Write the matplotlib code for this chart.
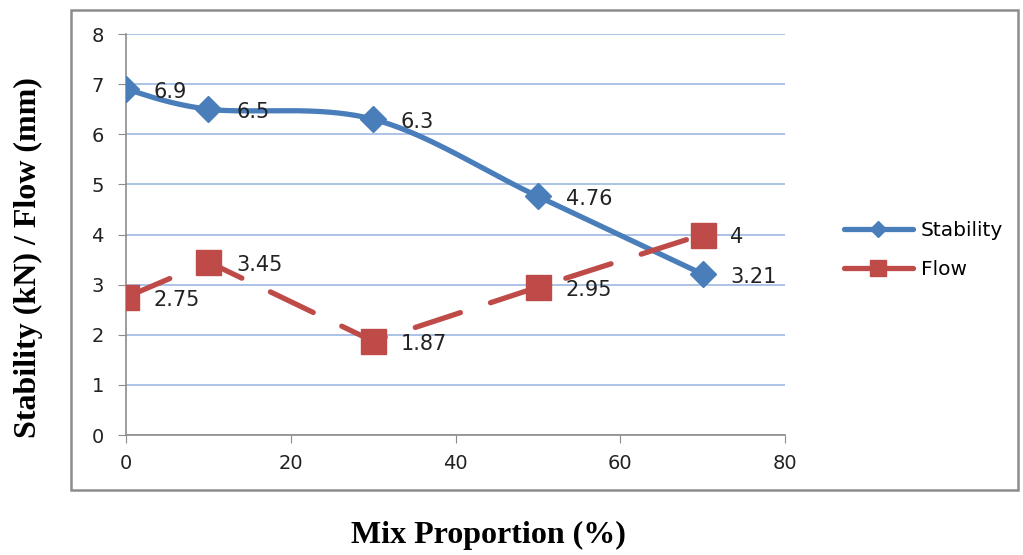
import numpy as np
import matplotlib
matplotlib.use('Agg')
import matplotlib.pyplot as plt
from matplotlib.patches import Rectangle
from matplotlib.lines import Line2D

plt.rcParams['font.family'] = ['DejaVu Sans']

# data
mix = [0, 10, 30, 50, 70]
stability = [6.9, 6.5, 6.3, 4.76, 3.21]
flow = [2.75, 3.45, 1.87, 2.95, 4]
stab_labels = ['6.9', '6.5', '6.3', '4.76', '3.21']
flow_labels = ['2.75', '3.45', '1.87', '2.95', '4']

blue = '#4A7EBB'
red = '#BE4B48'


def smooth(xs, ys, n=40, t=0.5):
    # catmull-rom style smoothing like the spreadsheet "smoothed line"
    xs = np.asarray(xs, float)
    ys = np.asarray(ys, float)
    px = np.concatenate([[xs[0]], xs, [xs[-1]]])
    py = np.concatenate([[ys[0]], ys, [ys[-1]]])
    outx, outy = [], []
    for i in range(1, len(px) - 2):
        p0, p1, p2, p3 = (np.array([px[j], py[j]]) for j in range(i - 1, i + 3))
        c1 = p1 + (p2 - p0) * t / 3
        c2 = p2 - (p3 - p1) * t / 3
        s = np.linspace(0, 1, n)[:, None]
        b = (1 - s) ** 3 * p1 + 3 * (1 - s) ** 2 * s * c1 + 3 * (1 - s) * s ** 2 * c2 + s ** 3 * p2
        outx.extend(b[:, 0])
        outy.extend(b[:, 1])
    return outx, outy


fig = plt.figure(figsize=(10.23, 5.55), dpi=100)
ax = fig.add_axes([0.1232, 0.2162, 0.6442, 0.7225])

# outer chart frame
fig.patches.append(Rectangle((71 / 1023, 1 - 490 / 555), (1018 - 71) / 1023, (490 - 10) / 555,
                             transform=fig.transFigure, fill=False, edgecolor='#8C8C8C',
                             linewidth=1.8))

sx, sy = smooth(mix, stability)
ax.plot(sx, sy, color=blue, linewidth=3.8, solid_capstyle='round', zorder=3)
ax.plot(mix, stability, linestyle='none', marker='D', markersize=13, color=blue, zorder=4)
ax.plot(mix, flow, color=red, linewidth=3.8, dashes=(9, 6), dash_capstyle='round',
        zorder=3)
ax.plot(mix, flow, linestyle='none', marker='s', markersize=18, color=red, zorder=4)

for x, y, s in zip(mix, stability, stab_labels):
    ax.annotate(s, (x, y), xytext=(20, -2), textcoords='offset points', fontsize=15,
                va='center', ha='left', color='#222222')
for x, y, s in zip(mix, flow, flow_labels):
    ax.annotate(s, (x, y), xytext=(20, -2), textcoords='offset points', fontsize=15,
                va='center', ha='left', color='#222222')

ax.set_xlim(0, 80)
ax.set_ylim(0, 8)
ax.set_xticks([0, 20, 40, 60, 80])
ax.set_yticks(range(0, 9))
ax.grid(axis='y', color='#9DB9E3', linewidth=1.2)
ax.set_axisbelow(True)
for side in ['top', 'right']:
    ax.spines[side].set_visible(False)
for side in ['left', 'bottom']:
    ax.spines[side].set_color('#8C8C8C')
    ax.spines[side].set_linewidth(1.2)
ax.tick_params(direction='out', length=6, color='#8C8C8C', labelsize=14,
               labelcolor='#222222')
ax.tick_params(axis='y', pad=10)
ax.tick_params(axis='x', pad=8)

# legend
handles = [Line2D([], [], color=blue, linewidth=3.8, marker='D', markersize=8,
                  solid_capstyle='round'),
           Line2D([], [], color=red, linewidth=3.8, marker='s', markersize=11,
                  solid_capstyle='round')]
fig.legend(handles, ['Stability', 'Flow'], loc='center left',
           bbox_to_anchor=(826 / 1023, 1 - 250 / 555), frameon=False, fontsize=14.5,
           handlelength=3.4, handletextpad=0.4, labelspacing=0.95)

fig.text(28 / 1023, 1 - 258 / 555, 'Stability (kN) / Flow (mm)', rotation=90,
         family='Liberation Serif', weight='bold', fontsize=23, ha='center', va='center')
fig.text(488 / 1023, 1 - 535 / 555, 'Mix Proportion (%)', family='Liberation Serif',
         weight='bold', fontsize=23, ha='center', va='center')

fig.savefig('out.png', dpi=100)
